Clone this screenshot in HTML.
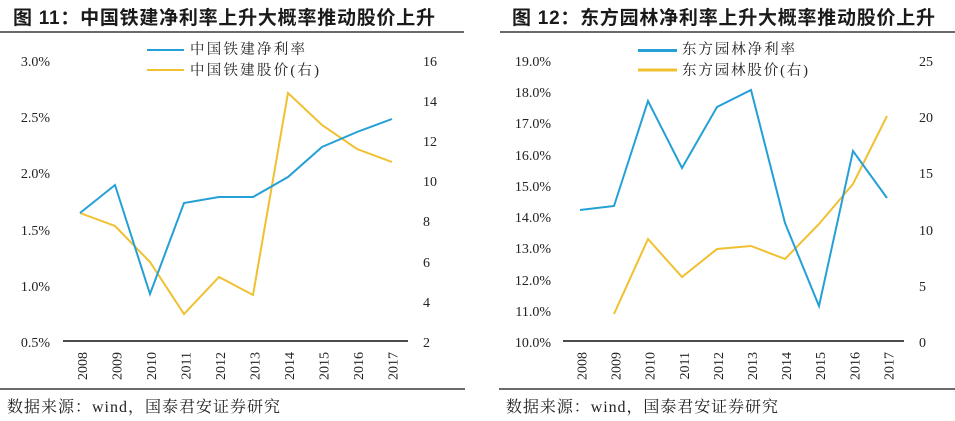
<!DOCTYPE html>
<html><head><meta charset="utf-8"><style>
html,body{margin:0;padding:0;background:#fff;}
svg{display:block;}
.t{font-family:"Liberation Sans","Noto Sans CJK SC",sans-serif;font-weight:bold;font-size:19px;fill:#1a1a1a;}
.lg{font-family:"Liberation Serif","Noto Serif CJK SC",serif;font-size:14.5px;fill:#222;}
.src{font-family:"Liberation Serif","Noto Serif CJK SC",serif;font-size:16px;fill:#222;}
.tk{font-family:"Liberation Serif",serif;font-size:14px;fill:#222;}
</style></head><body>
<svg width="955" height="421" viewBox="0 0 955 421" xmlns="http://www.w3.org/2000/svg">
<rect width="955" height="421" fill="#fff"/>
<!-- LEFT CHART -->
<text class="t" x="13" y="24" textLength="422" lengthAdjust="spacing">图 11：中国铁建净利率上升大概率推动股价上升</text>
<line x1="0" y1="32" x2="464" y2="32" stroke="#111" stroke-width="1.3"/>
<line x1="147" y1="50" x2="184" y2="50" stroke="#25a0d6" stroke-width="2"/>
<line x1="147" y1="70" x2="184" y2="70" stroke="#f0c030" stroke-width="2"/>
<text class="lg" x="190" y="54" textLength="115" lengthAdjust="spacing">中国铁建净利率</text>
<text class="lg" x="190" y="75" textLength="129" lengthAdjust="spacing">中国铁建股价(右)</text>
<g class="tk" text-anchor="end">
<text x="50" y="66">3.0%</text>
<text x="50" y="122">2.5%</text>
<text x="50" y="178">2.0%</text>
<text x="50" y="235">1.5%</text>
<text x="50" y="291">1.0%</text>
<text x="50" y="347">0.5%</text>
</g>
<g class="tk" text-anchor="start">
<text x="423" y="66">16</text>
<text x="423" y="106">14</text>
<text x="423" y="146">12</text>
<text x="423" y="186">10</text>
<text x="423" y="226">8</text>
<text x="423" y="267">6</text>
<text x="423" y="307">4</text>
<text x="423" y="347">2</text>
</g>
<line x1="63" y1="341" x2="408" y2="341" stroke="#111" stroke-width="1.5"/>
<g class="tk" text-anchor="end">
<text transform="translate(87,352) rotate(-90)">2008</text>
<text transform="translate(121.5,352) rotate(-90)">2009</text>
<text transform="translate(156,352) rotate(-90)">2010</text>
<text transform="translate(190.5,352) rotate(-90)">2011</text>
<text transform="translate(225,352) rotate(-90)">2012</text>
<text transform="translate(259.5,352) rotate(-90)">2013</text>
<text transform="translate(294,352) rotate(-90)">2014</text>
<text transform="translate(328.5,352) rotate(-90)">2015</text>
<text transform="translate(363,352) rotate(-90)">2016</text>
<text transform="translate(397.5,352) rotate(-90)">2017</text>
</g>
<polyline fill="none" stroke="#f0c030" stroke-width="2" stroke-linejoin="miter" points="80,213 115,226 150,262 184,314 219,277 253,295 288,93 322,125 357,149 392,162"/>
<polyline fill="none" stroke="#25a0d6" stroke-width="2" stroke-linejoin="miter" points="80,213 115,185 150,294 184,203 219,197 253,197 288,177 322,147 357,132 392,119"/>
<line x1="0" y1="389" x2="465" y2="389" stroke="#111" stroke-width="1.3"/>
<text class="src" x="7" y="412" textLength="273" lengthAdjust="spacing">数据来源：wind，国泰君安证券研究</text>

<!-- RIGHT CHART -->
<text class="t" x="512" y="24" textLength="423" lengthAdjust="spacing">图 12：东方园林净利率上升大概率推动股价上升</text>
<line x1="500" y1="32" x2="955" y2="32" stroke="#111" stroke-width="1.3"/>
<line x1="638" y1="50.5" x2="677" y2="50.5" stroke="#25a0d6" stroke-width="3"/>
<line x1="638" y1="70" x2="677" y2="70" stroke="#f0c030" stroke-width="3"/>
<text class="lg" x="682" y="54" textLength="113" lengthAdjust="spacing">东方园林净利率</text>
<text class="lg" x="682" y="75" textLength="126" lengthAdjust="spacing">东方园林股价(右)</text>
<g class="tk" text-anchor="end">
<text x="551" y="66">19.0%</text>
<text x="551" y="97">18.0%</text>
<text x="551" y="128">17.0%</text>
<text x="551" y="160">16.0%</text>
<text x="551" y="191">15.0%</text>
<text x="551" y="222">14.0%</text>
<text x="551" y="253">13.0%</text>
<text x="551" y="285">12.0%</text>
<text x="551" y="316">11.0%</text>
<text x="551" y="347">10.0%</text>
</g>
<g class="tk" text-anchor="start">
<text x="919" y="66">25</text>
<text x="919" y="122">20</text>
<text x="919" y="178">15</text>
<text x="919" y="235">10</text>
<text x="919" y="291">5</text>
<text x="919" y="347">0</text>
</g>
<line x1="563" y1="341" x2="904" y2="341" stroke="#111" stroke-width="1.5"/>
<g class="tk" text-anchor="end">
<text transform="translate(586.5,352) rotate(-90)">2008</text>
<text transform="translate(620.6,352) rotate(-90)">2009</text>
<text transform="translate(654.7,352) rotate(-90)">2010</text>
<text transform="translate(688.8,352) rotate(-90)">2011</text>
<text transform="translate(722.9,352) rotate(-90)">2012</text>
<text transform="translate(757,352) rotate(-90)">2013</text>
<text transform="translate(791.1,352) rotate(-90)">2014</text>
<text transform="translate(825.2,352) rotate(-90)">2015</text>
<text transform="translate(859.3,352) rotate(-90)">2016</text>
<text transform="translate(893.4,352) rotate(-90)">2017</text>
</g>
<polyline fill="none" stroke="#f0c030" stroke-width="2" stroke-linejoin="miter" points="614,314 648,239 682,277 717,249 751,246 785,259 819,224 853,184 887,116"/>
<polyline fill="none" stroke="#25a0d6" stroke-width="2" stroke-linejoin="miter" points="580,210 614,206 648,101 682,168 717,107 751,90 785,223 819,306 853,151 887,198"/>
<line x1="499" y1="389" x2="955" y2="389" stroke="#111" stroke-width="1.3"/>
<text class="src" x="506" y="412" textLength="272" lengthAdjust="spacing">数据来源：wind，国泰君安证券研究</text>
</svg>
</body></html>
